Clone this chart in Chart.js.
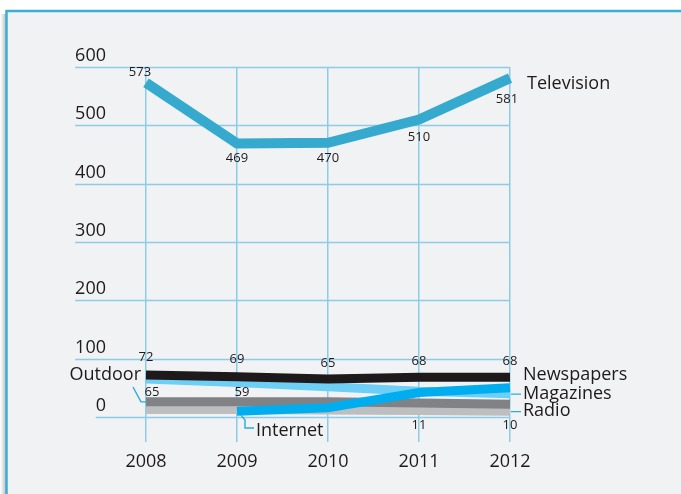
<!DOCTYPE html>
<html>
<head>
<meta charset="utf-8">
<script src="https://cdn.jsdelivr.net/npm/chart.js@4"></script>
<style>
  body { margin: 0; background: #fff; }
  #wrap { width: 681px; height: 494px; }
</style>
</head>
<body>
<div id="wrap"><canvas id="media-chart"></canvas></div>
<script>
// values
const years = ["2008", "2009", "2010", "2011", "2012"];
const television = [573, 469, 470, 510, 581];
const newspapers = [72, 69, 65, 68, 68];
const magazines = [65, 59, 52, 44, 40];
const internet = [null, 10, 16, 42, 50];
const outdoor = [26, 26, 26, 24, 22];
const radio = [13, 13, 12, 11, 10];
const yTicks = [0, 100, 200, 300, 400, 500, 600];

const FONT = "'Open Sans', 'Noto Sans', sans-serif";
const INK = "#1e1a1b";
const GRID = "#8ecbe6";
const LEADER = "#29abe2";

// frame, shadow and the long horizontal grid lines
const backdrop = {
  id: "backdrop",
  beforeDraw(chart) {
    const ctx = chart.ctx;
    ctx.save();
    ctx.fillStyle = "#fff";
    ctx.fillRect(0, 0, chart.width, chart.height);
    const g = ctx.createLinearGradient(0, 0, 7, 0);
    g.addColorStop(0, "rgba(180,180,180,0)");
    g.addColorStop(1, "rgba(150,150,150,0.8)");
    ctx.fillStyle = g;
    ctx.fillRect(0, 14, 7, chart.height);
    ctx.fillStyle = "#f1f2f4";
    ctx.fillRect(7, 11, chart.width, chart.height);
    ctx.strokeStyle = "#3aaed4";
    ctx.lineWidth = 2.5;
    ctx.beginPath();
    ctx.moveTo(6.5, chart.height + 5);
    ctx.lineTo(6.5, 11);
    ctx.lineTo(chart.width + 5, 11);
    ctx.stroke();
    ctx.restore();
  },
  beforeDatasetsDraw(chart) {
    const ctx = chart.ctx, y = chart.scales.y, x = chart.scales.x;
    ctx.save();
    ctx.font = "18px " + FONT;
    ctx.strokeStyle = GRID;
    ctx.lineWidth = 1.5;
    yTicks.forEach(v => {
      const py = Math.round(y.getPixelForValue(v)) + 0.5;
      const w = ctx.measureText(String(v)).width;
      ctx.beginPath();
      ctx.moveTo(106 - w, py);
      ctx.lineTo(x.getPixelForValue(years.length - 1), py);
      ctx.stroke();
    });
    ctx.restore();
  }
};

// value labels, series names and leader lines
const annotate = {
  id: "annotate",
  afterDatasetsDraw(chart) {
    const ctx = chart.ctx, xs = chart.scales.x, ys = chart.scales.y;
    ctx.save();
    ctx.fillStyle = INK;
    ctx.textAlign = "center";
    ctx.textBaseline = "middle";
    ctx.font = "13px " + FONT;
    chart.data.datasets.forEach(ds => {
      (ds.valueLabels || []).forEach(([i, dx, dy]) => {
        ctx.fillText(String(ds.data[i]), xs.getPixelForValue(i) + dx, ys.getPixelForValue(ds.data[i]) + dy);
      });
    });

    const X = i => xs.getPixelForValue(i);
    const Y = v => ys.getPixelForValue(v);
    const last = years.length - 1;
    ctx.font = "18px " + FONT;
    ctx.textAlign = "left";
    ctx.fillText("Television", X(last) + 17, Y(television[last]) + 6);
    ctx.fillText("Newspapers", X(last) + 13, Y(newspapers[last]) - 2);
    ctx.fillText("Magazines", X(last) + 13, Y(magazines[last]));
    ctx.fillText("Radio", X(last) + 13, Y(radio[last]));
    ctx.textAlign = "right";
    ctx.fillText("Outdoor", X(0) - 5, Y(newspapers[0]));
    ctx.textAlign = "left";
    ctx.fillText("Internet", X(1) + 19, Y(0) + 14);

    ctx.strokeStyle = LEADER;
    ctx.lineWidth = 1.4;
    ctx.beginPath();
    ctx.moveTo(X(last) + 1, Y(magazines[last]) + 0.5);
    ctx.lineTo(X(last) + 11, Y(magazines[last]) + 0.5);
    ctx.moveTo(X(last) + 1, Y(radio[last]) + 0.5);
    ctx.lineTo(X(last) + 11, Y(radio[last]) + 0.5);
    ctx.moveTo(X(0) - 13, Y(newspapers[0]) + 12);
    ctx.lineTo(X(0) - 5, Y(outdoor[0]));
    ctx.lineTo(X(0), Y(outdoor[0]));
    ctx.moveTo(X(1) + 4, Y(internet[1]) + 4);
    ctx.lineTo(X(1) + 8, Y(0) + 3);
    ctx.lineTo(X(1) + 8, Y(0) + 11);
    ctx.lineTo(X(1) + 17, Y(0) + 11);
    ctx.stroke();
    ctx.restore();
  }
};

const line = (label, data, color, extra) => Object.assign({
  label: label,
  data: data,
  borderColor: color,
  backgroundColor: color,
  borderWidth: 9,
  borderCapStyle: "butt",
  borderJoinStyle: "miter",
  pointRadius: 0,
  tension: 0,
  fill: false
}, extra || {});

new Chart(document.getElementById("media-chart"), {
  type: "line",
  data: {
    labels: years,
    datasets: [
      line("Television", television, "#36a9ce", { borderWidth: 10,
        valueLabels: [[0, -6, -10], [1, 0, 15], [2, 0, 15], [3, 0, 18], [4, -3, 21]] }),
      line("Newspapers", newspapers, INK, {
        valueLabels: [[0, 0, -18], [1, 0, -17], [2, 0, -16], [3, 0, -16], [4, 0, -16]] }),
      line("Internet", internet, "#00aeef"),
      line("Magazines", magazines, "#6dcff6", {
        valueLabels: [[0, 6, 13], [1, 5, 10]] }),
      line("Outdoor", outdoor, "#808285"),
      line("Radio", radio, "#bcbec0", {
        valueLabels: [[3, 0, 15], [4, 0, 14]] })
    ]
  },
  options: {
    responsive: true,
    maintainAspectRatio: false,
    animation: false,
    layout: { padding: { left: 0, top: 67, right: 171, bottom: 0 } },
    plugins: {
      legend: { display: false },
      tooltip: { enabled: false }
    },
    scales: {
      x: {
        offset: false,
        border: { display: false },
        grid: { color: GRID, lineWidth: 1.5, tickLength: 25, drawOnChartArea: true },
        ticks: { color: INK, font: { family: FONT, size: 18 }, padding: 9, maxRotation: 0 },
        afterFit: s => { s.height = 77; }
      },
      y: {
        min: 0,
        max: 600,
        border: { display: false },
        grid: { display: false, drawTicks: false },
        ticks: { stepSize: 100, color: INK, font: { family: FONT, size: 18 }, padding: 40, labelOffset: -11 },
        afterFit: s => { s.width = 146; }
      }
    }
  },
  plugins: [backdrop, annotate]
});
</script>
</body>
</html>
